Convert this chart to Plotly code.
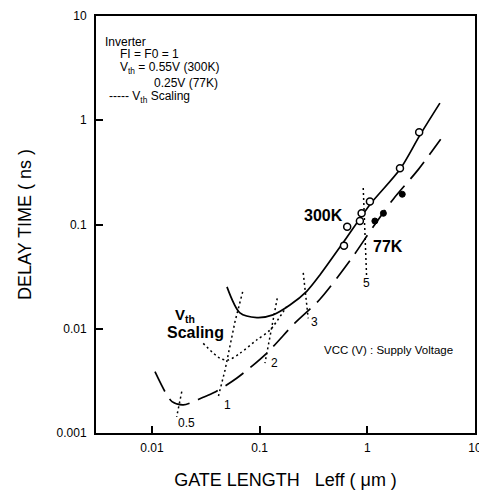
import numpy as np
import plotly.graph_objects as go

# ---- data ----
# 300K solid curve
x300_curve = [0.0497, 0.0656, 0.0944, 0.133, 0.191, 0.275, 0.363, 0.593, 1.057, 2.01, 3.08, 4.72]
y300_curve = [0.0252, 0.0142, 0.0128, 0.0136, 0.0169, 0.0230, 0.0328, 0.0665, 0.155, 0.338, 0.72, 1.46]
# 300K measured points (open circles)
x300_pts = [0.607, 0.65, 0.853, 0.885, 1.057, 2.01, 3.03]
y300_pts = [0.0627, 0.095, 0.108, 0.128, 0.166, 0.346, 0.766]

# 77K dashed curve
x77_curve = [0.01066, 0.01321, 0.01534, 0.01953, 0.0299, 0.0377, 0.0611, 0.116, 0.213,
             0.363, 0.715, 1.135, 1.74, 2.97, 4.8]
y77_curve = [0.00387, 0.00249, 0.0020, 0.00186, 0.0022, 0.00244, 0.00335, 0.00582, 0.0114,
             0.0192, 0.0474, 0.0953, 0.175, 0.336, 0.656]
# 77K measured points (filled circles)
x77_pts = [1.175, 1.41, 2.11]
y77_pts = [0.108, 0.128, 0.195]

# Vth scaling curve (dotted)
xvth = [0.0299, 0.0428, 0.051, 0.0656, 0.0938, 0.1248, 0.178]
yvth = [0.00724, 0.00521, 0.00501, 0.00582, 0.0078, 0.00973, 0.0163]

# Supply-voltage (VCC) dotted connectors
vcc_labels = ["0.5", "1", "2", "3", "5"]
vcc_x = [[0.0189, 0.01695],
         [0.0695, 0.059, 0.0477, 0.0413],
         [0.1456, 0.129, 0.1186, 0.112],
         [0.254, 0.2825],
         [0.916, 0.985]]
vcc_y = [[0.00249, 0.00143],
         [0.0226, 0.0117, 0.00402, 0.00223],
         [0.0196, 0.01047, 0.00625, 0.00467],
         [0.0343, 0.01258],
         [0.224, 0.0313]]
vcc_label_x = [0.0211, 0.050, 0.1387, 0.326, 0.985]
vcc_label_y = [0.00124, 0.00186, 0.00467, 0.0117, 0.0273]

x_ticks = [0.01, 0.1, 1, 10]
x_ticklabels = ["0.01", "0.1", "1", "10"]
y_ticks = [0.001, 0.01, 0.1, 1, 10]
y_ticklabels = ["0.001", "0.01", "0.1", "1", "10"]

FONT = "Liberation Sans, Arial, Helvetica, sans-serif"
BLACK = "black"

fig = go.Figure()

fig.add_trace(go.Scatter(x=x300_curve, y=y300_curve, mode="lines",
                         line=dict(color=BLACK, width=1.7, shape="spline", smoothing=0.8),
                         showlegend=False, hoverinfo="skip"))
fig.add_trace(go.Scatter(x=x77_curve, y=y77_curve, mode="lines",
                         line=dict(color=BLACK, width=1.7, shape="spline", smoothing=0.8,
                                   dash="22px,9px"),
                         showlegend=False, hoverinfo="skip"))
fig.add_trace(go.Scatter(x=xvth, y=yvth, mode="lines",
                         line=dict(color=BLACK, width=1.5, shape="spline", smoothing=0.8,
                                   dash="2px,3px"),
                         showlegend=False, hoverinfo="skip"))
for xs, ys in zip(vcc_x, vcc_y):
    fig.add_trace(go.Scatter(x=xs, y=ys, mode="lines",
                             line=dict(color=BLACK, width=1.5, dash="2px,3px"),
                             showlegend=False, hoverinfo="skip"))
fig.add_trace(go.Scatter(x=x300_pts, y=y300_pts, mode="markers",
                         marker=dict(symbol="circle", size=7, color="white",
                                     line=dict(color=BLACK, width=1.5)),
                         showlegend=False, hoverinfo="skip"))
fig.add_trace(go.Scatter(x=x77_pts, y=y77_pts, mode="markers",
                         marker=dict(symbol="circle", size=6, color=BLACK,
                                     line=dict(color=BLACK, width=1)),
                         showlegend=False, hoverinfo="skip"))

annotations = []
# VCC labels (data coords; log axes need log10 values)
for lab, lx, ly in zip(vcc_labels, vcc_label_x, vcc_label_y):
    annotations.append(dict(x=np.log10(lx), y=np.log10(ly), xref="x", yref="y", text=lab,
                            showarrow=False, font=dict(family=FONT, size=12, color=BLACK),
                            xanchor="center", yanchor="middle"))

annotations += [
    dict(x=np.log10(0.395), y=np.log10(0.1233), xref="x", yref="y", text="<b>300K</b>",
         showarrow=False, xanchor="center", yanchor="middle",
         font=dict(family=FONT, size=16, color=BLACK)),
    dict(x=np.log10(1.553), y=np.log10(0.0622), xref="x", yref="y", text="<b>77K</b>",
         showarrow=False, xanchor="center", yanchor="middle",
         font=dict(family=FONT, size=16, color=BLACK)),
    dict(x=np.log10(0.0202), y=np.log10(0.01355), xref="x", yref="y", text="<b>V<sub>th</sub></b>",
         showarrow=False, xanchor="center", yanchor="middle",
         font=dict(family=FONT, size=15, color=BLACK)),
    dict(x=np.log10(0.02535), y=np.log10(0.0093), xref="x", yref="y", text="<b>Scaling</b>",
         showarrow=False, xanchor="center", yanchor="middle",
         font=dict(family=FONT, size=16, color=BLACK)),
    dict(x=0.773, y=0.199, xref="paper", yref="paper", text="VCC (V) : Supply Voltage",
         showarrow=False, xanchor="center", yanchor="middle",
         font=dict(family=FONT, size=11.5, color=BLACK)),
]

legend_lines = [
    ("Inverter", 0.0185, 0.9376),
    ("FI = F0 = 1", 0.058, 0.909),
    ("V<sub>th</sub> = 0.55V (300K)", 0.058, 0.875),
    ("0.25V (77K)", 0.1478, 0.839),
    ("----- V<sub>th</sub> Scaling", 0.029, 0.806),
]
for txt, lx, ly in legend_lines:
    annotations.append(dict(x=lx, y=ly, xref="paper", yref="paper", text=txt,
                            showarrow=False, xanchor="left", yanchor="middle",
                            font=dict(family=FONT, size=12, color=BLACK)))

# the page body adds an 8px offset, so the figure is sized to fit inside the window
fig.update_layout(
    width=479, height=484,
    margin=dict(l=88, r=12, t=8, b=59, autoexpand=False),
    paper_bgcolor="white", plot_bgcolor="white",
    font=dict(family=FONT, color=BLACK),
    annotations=annotations,
    showlegend=False,
)
fig.update_xaxes(type="log", range=[-2.52, 1], tickvals=x_ticks, ticktext=x_ticklabels,
                 ticks="inside", ticklen=7, tickwidth=1.5, tickcolor=BLACK,
                 showline=True, linecolor=BLACK, linewidth=2, mirror=True,
                 showgrid=False, zeroline=False, automargin=False,
                 tickfont=dict(family=FONT, size=12, color=BLACK), ticklabelstandoff=3,
                 title=dict(text="GATE LENGTH   Leff ( μm )",
                            font=dict(family=FONT, size=18, color=BLACK), standoff=19))
fig.update_yaxes(type="log", range=[-3, 1], tickvals=y_ticks, ticktext=y_ticklabels,
                 ticks="inside", ticklen=7, tickwidth=1.5, tickcolor=BLACK,
                 showline=True, linecolor=BLACK, linewidth=2, mirror=True,
                 showgrid=False, zeroline=False, automargin=False,
                 tickfont=dict(family=FONT, size=12, color=BLACK), ticklabelstandoff=5,
                 title=dict(text="DELAY TIME ( ns )",
                            font=dict(family=FONT, size=18, color=BLACK), standoff=20))

fig.write_html("out.html")
